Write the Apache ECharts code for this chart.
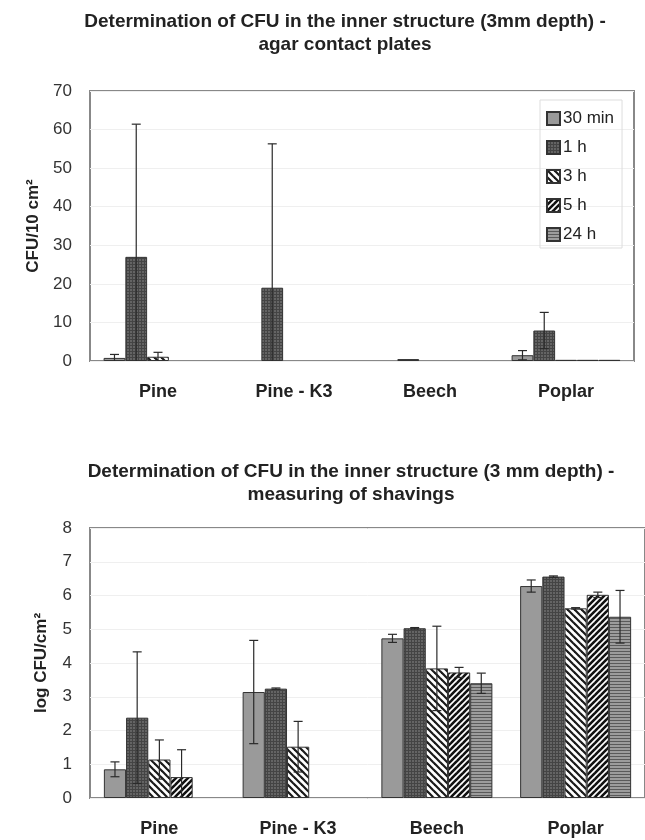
<!DOCTYPE html>
<html>
<head>
<meta charset="utf-8">
<script src="https://cdn.jsdelivr.net/npm/echarts@6/dist/echarts.min.js"></script>
<style>
  html, body { margin: 0; padding: 0; background: #fff; }
  #chart { width: 645px; height: 840px; }
</style>
</head>
<body>
<div id="chart"></div>
<script>
// Wood species and sampling times
const categories = ['Pine', 'Pine - K3', 'Beech', 'Poplar'];
const timeLabels = ['30 min', '1 h', '3 h', '5 h', '24 h'];

// Agar contact plates, CFU/10 cm² (mean and standard deviation per time)
const contact30min = [0.8, 0, 0, 1.5];
const contact1h    = [27, 19, 0.5, 7.9];
const contact3h    = [1.1, 0, 0, 0.3];
const contact5h    = [0, 0, 0, 0.3];
const contact24h   = [0, 0, 0, 0.3];
const contactErr30min = [0.9, 0, 0, 1.2];
const contactErr1h    = [34.4, 37.3, 0, 4.7];
const contactErr3h    = [1.15, 0, 0, 0];
const contactErr5h    = [0, 0, 0, 0];
const contactErr24h   = [0, 0, 0, 0];

// Measuring of shavings, log CFU/cm²
const shavings30min = [0.85, 3.14, 4.73, 6.28];
const shavings1h    = [2.38, 3.24, 5.03, 6.56];
const shavings3h    = [1.14, 1.52, 3.84, 5.62];
const shavings5h    = [0.62, null, 3.72, 6.02];
const shavings24h   = [null, null, 3.40, 5.37];
const shavingsErr30min = [0.22, 1.53, 0.12, 0.18];
const shavingsErr1h    = [1.95, 0.02, 0.02, 0.02];
const shavingsErr3h    = [0.58, 0.75, 1.25, 0.02];
const shavingsErr5h    = [0.81, 0, 0.15, 0.08];
const shavingsErr24h   = [0, 0, 0.3, 0.78];

const contactTicks = { min: 0, max: 70, interval: 10 };
const shavingsTicks = { min: 0, max: 8, interval: 1 };

// ---- fill patterns for the five time points ----
function tile(size, draw) {
  const c = document.createElement('canvas');
  c.width = size; c.height = size;
  const ctx = c.getContext('2d');
  draw(ctx, size);
  return { image: c, repeat: 'repeat' };
}
const fills = [
  '#9a9a9a',
  tile(3, (ctx, s) => {
    ctx.fillStyle = '#646464'; ctx.fillRect(0, 0, s, s);
    ctx.fillStyle = '#444444'; ctx.fillRect(0, 0, s, 1); ctx.fillRect(0, 0, 1, s);
  }),
  tile(7, (ctx, s) => {
    ctx.fillStyle = '#ffffff'; ctx.fillRect(0, 0, s, s);
    ctx.strokeStyle = '#1a1a1a'; ctx.lineWidth = 2.2;
    for (let k = -1; k <= 1; k++) {
      ctx.beginPath(); ctx.moveTo(k * s - 1, -1); ctx.lineTo(k * s + s + 1, s + 1); ctx.stroke();
    }
  }),
  tile(6, (ctx, s) => {
    ctx.fillStyle = '#ffffff'; ctx.fillRect(0, 0, s, s);
    ctx.strokeStyle = '#111111'; ctx.lineWidth = 2.6;
    for (let k = 0; k <= 2; k++) {
      ctx.beginPath(); ctx.moveTo(k * s + 1, -1); ctx.lineTo(k * s - s - 1, s + 1); ctx.stroke();
    }
  }),
  tile(3, (ctx, s) => {
    ctx.fillStyle = '#9c9c9c'; ctx.fillRect(0, 0, s, s);
    ctx.fillStyle = '#5a5a5a'; ctx.fillRect(0, 0, s, 1);
  })
];

const BAR_FRAC = 0.16;
const contactValues = [contact30min, contact1h, contact3h, contact5h, contact24h];
const contactErrors = [contactErr30min, contactErr1h, contactErr3h, contactErr5h, contactErr24h];
const shavingsValues = [shavings30min, shavings1h, shavings3h, shavings5h, shavings24h];
const shavingsErrors = [shavingsErr30min, shavingsErr1h, shavingsErr3h, shavingsErr5h, shavingsErr24h];

// A zero count gets no bar at all (no flat outline on the axis)
function drawable(v) { return v === 0 ? null : v; }

function barSeries(values, gridIdx) {
  return timeLabels.map((name, i) => ({
    name: name,
    type: 'bar',
    xAxisIndex: gridIdx, yAxisIndex: gridIdx,
    barWidth: (BAR_FRAC * 100) + '%',
    barGap: '0%',
    data: values[i].map(drawable),
    itemStyle: { color: fills[i], borderColor: '#333', borderWidth: 1 },
    emphasis: { disabled: true },
    z: 2
  }));
}

// Error bars drawn on top of each bar, offset to its slot within the group
function errorSeries(values, errors, gridIdx) {
  return timeLabels.map((name, i) => ({
    name: 'sd ' + name,
    type: 'custom',
    xAxisIndex: gridIdx, yAxisIndex: gridIdx,
    z: 5,
    silent: true,
    data: values[i].map((v, c) => [c, v == null ? 0 : v, errors[i][c]]),
    renderItem: function (params, api) {
      const cat = api.value(0), v = api.value(1), e = api.value(2);
      if (!e) return null;
      const band = api.size([1, 0])[0];
      const dx = (i - 2) * band * BAR_FRAC;
      const top = api.coord([cat, v + e]);
      const bot = api.coord([cat, Math.max(v - e, 0)]);
      const x = top[0] + dx;
      const hw = 4.5;
      const style = { stroke: '#2a2a2a', lineWidth: 1.2 };
      const children = [
        { type: 'line', shape: { x1: x, y1: top[1], x2: x, y2: bot[1] }, style: style },
        { type: 'line', shape: { x1: x - hw, y1: top[1], x2: x + hw, y2: top[1] }, style: style }
      ];
      if (v - e > 0) {
        children.push({ type: 'line', shape: { x1: x - hw, y1: bot[1], x2: x + hw, y2: bot[1] }, style: style });
      }
      return { type: 'group', children: children };
    }
  }));
}

const font = 'Liberation Sans, Arial, sans-serif';

function yAxis(gridIdx, ticks, name) {
  return {
    type: 'value', gridIndex: gridIdx,
    min: ticks.min, max: ticks.max, interval: ticks.interval,
    name: name, nameLocation: 'middle', nameGap: 40, nameRotate: 90,
    nameTextStyle: { fontFamily: font, fontWeight: 'bold', fontSize: 17, color: '#222' },
    axisLine: { show: false }, axisTick: { show: false },
    axisLabel: { fontFamily: font, fontSize: 17, color: '#333', margin: 18 },
    splitLine: { show: true, lineStyle: { color: '#efefef', width: 1 } }
  };
}
function xAxis(gridIdx) {
  return {
    type: 'category', gridIndex: gridIdx, data: categories,
    axisLine: { show: false }, axisTick: { show: false },
    axisLabel: { fontFamily: font, fontSize: 18, fontWeight: 'bold', color: '#222', margin: 22 }
  };
}

const titleStyle = { fontFamily: font, fontWeight: 'bold', fontSize: 19, color: '#222', lineHeight: 23 };

const chart = echarts.init(document.getElementById('chart'), null, { renderer: 'canvas' });
chart.setOption({
  animation: false,
  backgroundColor: '#ffffff',
  title: [
    {
      text: 'Determination of CFU in the inner structure (3mm depth) -\nagar contact plates',
      left: 340, top: 5, textAlign: 'center', textStyle: titleStyle
    },
    {
      text: 'Determination of CFU in the inner structure (3 mm depth) -\nmeasuring of shavings',
      left: 346, top: 455, textAlign: 'center', textStyle: titleStyle
    }
  ],
  legend: {
    data: timeLabels,
    orient: 'vertical',
    left: 540, top: 100,
    padding: [10, 8, 5, 6],
    icon: 'rect',
    itemWidth: 13, itemHeight: 13, itemGap: 12,
    borderColor: '#dddddd', borderWidth: 1,
    selectedMode: false,
    textStyle: { fontFamily: font, fontSize: 17, color: '#222', padding: [0, 0, 0, -2] }
  },
  grid: [
    { left: 90, top: 91, width: 544, height: 270, show: true, borderColor: '#888', borderWidth: 2, backgroundColor: 'transparent' },
    { left: 90, top: 528, width: 556, height: 270, show: true, borderColor: '#888', borderWidth: 2, backgroundColor: 'transparent' }
  ],
  xAxis: [xAxis(0), xAxis(1)],
  yAxis: [yAxis(0, contactTicks, 'CFU/10 cm²'), yAxis(1, shavingsTicks, 'log CFU/cm²')],
  series: [].concat(
    barSeries(contactValues, 0),
    barSeries(shavingsValues, 1),
    errorSeries(contactValues, contactErrors, 0),
    errorSeries(shavingsValues, shavingsErrors, 1)
  )
});
</script>
</body>
</html>
